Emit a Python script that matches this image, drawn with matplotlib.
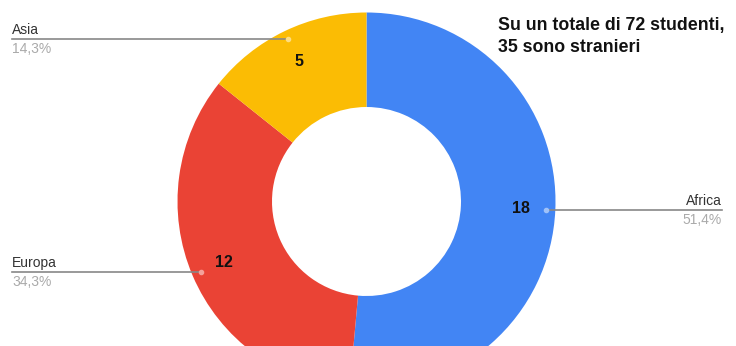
import matplotlib
matplotlib.use("Agg")
import matplotlib.pyplot as plt
import numpy as np

categories = ["Africa", "Europa", "Asia"]
values = [18, 12, 5]
pct_labels = ["51,4%", "34,3%", "14,3%"]
colors = ["#4285F4", "#EA4335", "#FBBC04"]
dot_colors = ["#9fc1f9", "#f4a19a", "#fddd82"]
title = "Su un totale di 72 studenti,\n35 sono stranieri"

plt.rcParams['font.family'] = ['Liberation Sans', 'DejaVu Sans']

fig = plt.figure(figsize=(7.36, 3.46), dpi=100)
ax = fig.add_axes([0, 0, 1, 1])
W, H = 736, 346
cx, cy, R = 366.5, H - 201.5, 189
wedges, _ = ax.pie(values, radius=R, center=(cx, cy), startangle=90,
                   counterclock=False, colors=colors,
                   wedgeprops=dict(width=R * 0.5, linewidth=0))
ax.set_xlim(0, W)
ax.set_ylim(0, H)
ax.set_aspect('equal')
ax.axis('off')

label_x = {"Africa": 722, "Europa": 12, "Asia": 12}
for w, cat, v, p, dc in zip(wedges, categories, values, pct_labels, dot_colors):
    mid = np.deg2rad((w.theta1 + w.theta2) / 2)
    rv = 155
    ax.text(cx + rv * np.cos(mid), cy + rv * np.sin(mid), str(v),
            ha='center', va='center', fontsize=11.5, fontweight='bold', color='#111111')
    rd = 180
    dx, dy = cx + rd * np.cos(mid), cy + rd * np.sin(mid)
    ax.plot([dx], [dy], 'o', ms=3, color=dc, zorder=5)
    tx = label_x[cat]
    ax.plot([dx, tx], [dy, dy], color='#888888', lw=1.2, zorder=4)
    ha = 'right' if tx > cx else 'left'
    ax.text(tx, dy + 2, cat, ha=ha, va='bottom', fontsize=10, color='#333333')
    ax.text(tx, dy - 3, p, ha=ha, va='top', fontsize=10, color='#aaaaaa')

ax.text(498, H - 17, title, ha='left', va='top', fontsize=12.8,
        fontweight='bold', color='#111111', linespacing=1.38)

fig.savefig("out.png", dpi=100)
